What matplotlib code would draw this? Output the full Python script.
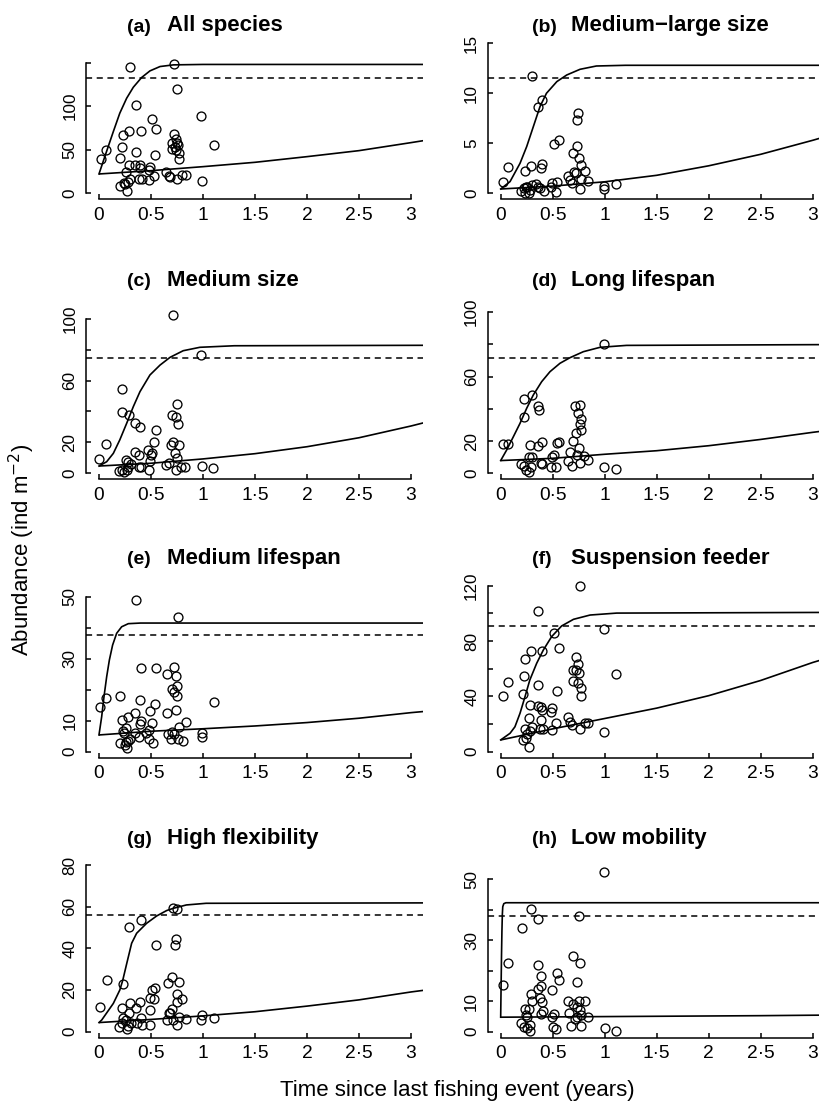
import matplotlib
matplotlib.use("Agg")
import matplotlib.pyplot as plt

plt.rcParams['font.family'] = ['Liberation Sans', 'DejaVu Sans']
plt.rcParams['mathtext.fontset'] = 'custom'
plt.rcParams['mathtext.rm'] = 'Liberation Sans'
plt.rcParams['mathtext.it'] = 'Liberation Sans:italic'
plt.rcParams['mathtext.bf'] = 'Liberation Sans:bold'

# ---------------------------------------------------------------- data
panel_tags = ['(a)', '(b)', '(c)', '(d)', '(e)', '(f)', '(g)', '(h)']
panel_names = ['All species', 'Medium\u2212large size', 'Medium size', 'Long lifespan',
               'Medium lifespan', 'Suspension feeder', 'High flexibility', 'Low mobility']

# observed abundance per site: (years since fishing, ind m^-2)
a_time = [0.016, 0.07, 0.30, 0.72, 0.75, 0.36, 0.51, 0.55, 0.98, 0.29, 0.40, 0.23, 0.225, 0.36,
          0.20, 0.535, 1.11, 0.285, 0.35, 0.39, 0.39, 0.49, 0.485, 0.26, 0.53, 0.41, 0.38, 0.48,
          0.295, 0.275, 0.245, 0.205, 0.25, 0.27, 0.64, 0.67, 0.68, 0.75, 0.80, 0.84, 0.99, 0.72,
          0.74, 0.70, 0.75, 0.73, 0.76, 0.70, 0.74, 0.77, 0.77]
a_abund = [39.8, 49.8, 145, 149, 119.5, 101, 85, 74, 88.5, 71.6, 71.6, 66.7, 53.6, 47,
           41, 43.7, 55, 33, 32, 32, 29, 30.6, 27, 24.5, 20, 16.5, 16.5, 15,
           16.5, 13.4, 12.3, 8.8, 10.3, 3, 24, 20, 19, 16, 20.7, 20.7, 13.8, 68,
           62.5, 58, 58, 53.6, 55, 51, 50, 46, 39]

b_time = [0.02, 0.074, 0.30, 0.36, 0.40, 0.51, 0.56, 0.23, 0.29, 0.40, 0.39, 0.74, 0.73, 0.73,
          0.70, 0.75, 0.77, 0.81, 0.705, 0.72, 0.65, 0.67, 0.69, 0.77, 0.84, 0.76, 0.54, 0.49,
          0.48, 0.53, 0.99, 0.99, 1.11, 0.20, 0.22, 0.25, 0.27, 0.28, 0.30, 0.34, 0.36, 0.38,
          0.42, 0.23, 0.24]
b_abund = [1.17, 2.67, 11.73, 8.6, 9.33, 4.93, 5.33, 2.27, 2.77, 2.9, 2.5, 8.07, 7.33, 4.77,
           4.07, 3.5, 2.87, 2.2, 2.17, 2.0, 1.77, 1.33, 1.07, 1.43, 1.23, 0.4, 1.17, 1.07,
           0.6, 0.17, 0.73, 0.4, 0.93, 0.27, 0.5, 0.67, 0.07, 0.33, 0.8, 0.9, 0.67, 0.5,
           0.27, 0.07, 0.67]

c_time = [0.003, 0.067, 0.224, 0.22, 0.29, 0.35, 0.39, 0.715, 0.98, 0.75, 0.70, 0.74, 0.76,
          0.55, 0.53, 0.715, 0.69, 0.77, 0.73, 0.75, 0.47, 0.51, 0.50, 0.49, 0.35, 0.38, 0.26,
          0.28, 0.38, 0.40, 0.48, 0.19, 0.22, 0.24, 0.27, 0.28, 0.31, 0.64, 0.67, 0.74, 0.79,
          0.83, 0.99, 1.10]
c_abund = [9.5, 19, 54.3, 39.4, 37.7, 32.8, 29.7, 102.4, 76.7, 45, 37.7, 36.6, 31.7,
           28.2, 20, 20.3, 18.5, 18.5, 12.9, 9.7, 15.1, 13.1, 11.6, 8, 14, 11.6, 8.6,
           7.1, 4.3, 4.3, 1.9, 1.5, 2.2, 1.1, 2.2, 4.3, 5.8, 5.2, 6.9, 2.2, 4.1,
           4.3, 5, 3.4]

d_time = [0.02, 0.07, 0.22, 0.30, 0.22, 0.36, 0.37, 0.99, 0.71, 0.76, 0.74, 0.77, 0.76, 0.77,
          0.72, 0.70, 0.75, 0.67, 0.73, 0.80, 0.84, 0.65, 0.76, 0.69, 0.99, 1.11, 0.28, 0.36,
          0.40, 0.54, 0.56, 0.27, 0.30, 0.51, 0.49, 0.20, 0.22, 0.24, 0.27, 0.29, 0.39, 0.40,
          0.48, 0.53]
d_abund = [18, 18, 45.9, 48.3, 35.1, 41.7, 39.3, 80.2, 41.9, 42.1, 37.2, 33.9, 30.4, 26.9,
           25.2, 19.8, 15.7, 13.4, 11.4, 11, 8.3, 7.9, 6.2, 4.5, 3.7, 2.5, 17.6, 17.1,
           19.4, 18.6, 19.6, 10.3, 9.9, 11.2, 10.3, 5.8, 4.3, 2.1, 0.8, 4.1, 6.2, 5.8,
           3.7, 3.7]

e_time = [0.013, 0.07, 0.36, 0.76, 0.40, 0.55, 0.65, 0.72, 0.74, 0.75, 0.70, 0.72, 0.75, 0.20,
          0.39, 0.54, 1.11, 0.49, 0.65, 0.74, 0.35, 0.28, 0.22, 0.40, 0.39, 0.51, 0.26, 0.84,
          0.77, 0.48, 0.23, 0.24, 0.35, 0.38, 0.45, 0.66, 0.70, 0.72, 0.99, 0.99, 0.69, 0.76,
          0.81, 0.48, 0.52, 0.30, 0.28, 0.26, 0.20, 0.27, 0.25]
e_abund = [14.5, 17.4, 49, 43.4, 26.9, 26.9, 25.1, 27.3, 24.4, 21.2, 20.3, 19.4, 18.1, 18.1,
           16.6, 15.4, 15.9, 13.1, 12.6, 13.3, 12.4, 11.3, 10.2, 10, 8.8, 9.1, 7.8, 9.5,
           8.1, 6.9, 6.6, 5.9, 6, 4.8, 5.9, 5.7, 6.5, 5.7, 5.9, 4.6, 4, 4,
           3.5, 4, 2.7, 4, 3.3, 3, 2.7, 1.1, 2.2]

f_time = [0.02, 0.074, 0.36, 0.76, 0.99, 0.51, 0.56, 0.29, 0.40, 0.23, 0.22, 0.36, 0.21, 0.54,
          1.11, 0.72, 0.74, 0.70, 0.72, 0.75, 0.70, 0.74, 0.77, 0.77, 0.28, 0.36, 0.39, 0.40,
          0.49, 0.48, 0.27, 0.39, 0.65, 0.67, 0.69, 0.81, 0.84, 0.53, 0.30, 0.38, 0.41, 0.49,
          0.23, 0.76, 0.99, 0.28, 0.25, 0.24, 0.21, 0.27]
f_abund = [40.5, 50.6, 101.7, 120, 88.9, 85.5, 74.9, 72.5, 72.5, 67.2, 54.7, 48, 41.7, 44.1,
           56.1, 68.4, 63.1, 59, 59, 56.9, 51.1, 49.6, 46.3, 40, 34, 33.3, 32.3, 30.1,
           31.3, 28.9, 24.6, 22.9, 24.8, 21.7, 19.3, 21, 21, 20.5, 17.6, 16.6, 16.6, 15.7,
           16.1, 16.6, 14.2, 14.7, 12.8, 9.9, 8.4, 3.1]

g_time = [0.013, 0.074, 0.23, 0.29, 0.40, 0.715, 0.75, 0.55, 0.74, 0.73, 0.70, 0.66, 0.77, 0.535,
          0.51, 0.75, 0.49, 0.53, 0.80, 0.75, 0.30, 0.39, 0.22, 0.36, 0.285, 0.49, 0.70, 0.67,
          0.99, 0.23, 0.26, 0.22, 0.19, 0.27, 0.28, 0.31, 0.37, 0.40, 0.41, 0.49, 0.65, 0.68,
          0.71, 0.75, 0.77, 0.84, 0.98, 1.11]
g_abund = [11.9, 24.7, 22.8, 50.2, 53.8, 59.5, 58.9, 41.7, 44.3, 41.4, 26.3, 23.1, 23.8, 21,
           19.9, 17.8, 15.9, 15.4, 15.4, 14, 13.5, 14, 11.4, 11.1, 9, 10.3, 10.6, 9,
           7.9, 6.4, 5.5, 3.9, 2.2, 1.4, 2.7, 4.3, 4.2, 6.4, 3.2, 3.2, 5.5, 8.7,
           5.5, 3.2, 7.1, 5.9, 5.5, 6.4]

h_time = [0.02, 0.074, 0.295, 0.36, 0.205, 0.99, 0.75, 0.70, 0.76, 0.36, 0.39, 0.54, 0.56, 0.73,
          0.39, 0.355, 0.49, 0.29, 0.30, 0.40, 0.38, 0.65, 0.70, 0.75, 0.81, 0.73, 0.23, 0.27,
          0.41, 0.39, 0.51, 0.49, 0.50, 0.53, 0.24, 0.25, 0.20, 0.22, 0.25, 0.28, 0.28, 0.66,
          0.68, 0.71, 0.73, 0.76, 0.77, 0.77, 0.84, 1.00, 1.11]
h_abund = [15.4, 22.6, 40.4, 36.9, 34.1, 52.3, 38, 24.9, 22.4, 21.8, 18.1, 19.1, 16.9, 16.4,
           14.8, 13.8, 13.5, 12.4, 10, 9.7, 11, 10, 9.1, 9.9, 10, 8.2, 7.5, 7.5,
           6.7, 5.8, 5.8, 4.9, 1.6, 0.8, 5.3, 4.7, 2.7, 1.6, 1.1, 0.3, 2, 6.2,
           1.8, 4.2, 4.7, 6.9, 5.3, 1.9, 4.9, 1.1, 0.1]

# reference (unfished) abundance, dashed line
reference_level = [133, 11.57, 74.8, 71.7, 37.5, 90.8, 55.9, 38.1]

# fitted recovery curve (upper) read at the listed times
a_fit_t = [0, 0.067, 0.138, 0.20, 0.266, 0.33, 0.41, 0.49, 0.587, 0.715, 1.0, 3.2]
a_fit = [22.2, 46, 70.9, 92, 109.2, 121.8, 133, 140.6, 145.6, 147.5, 148, 148]
b_fit_t = [0, 0.09, 0.186, 0.25, 0.314, 0.378, 0.44, 0.54, 0.635, 0.763, 0.92, 1.2, 3.2]
b_fit = [0.43, 1.17, 3.0, 4.67, 6.67, 8.67, 10.0, 11.17, 11.83, 12.4, 12.73, 12.8, 12.8]
c_fit_t = [0, 0.074, 0.138, 0.2, 0.266, 0.33, 0.394, 0.49, 0.587, 0.683, 0.81, 0.97, 1.3, 3.2]
c_fit = [4.7, 7.5, 12.9, 21.6, 32.3, 43.1, 52.8, 63.6, 70, 75, 79.3, 81.5, 82.5, 82.8]
d_fit_t = [0, 0.058, 0.122, 0.186, 0.25, 0.314, 0.394, 0.474, 0.57, 0.667, 0.795, 0.955, 1.21, 3.2]
d_fit = [7.9, 14.5, 22.7, 31, 40.3, 48.6, 56.8, 63, 68.2, 71.7, 75.4, 78.1, 79.3, 79.8]
e_fit_t = [0, 0.026, 0.048, 0.074, 0.1, 0.131, 0.17, 0.218, 0.282, 0.4, 3.2]
e_fit = [5.4, 11.3, 17.7, 24.2, 29.6, 34.4, 38.2, 40.3, 41.3, 41.5, 41.5]
f_fit_t = [0, 0.09, 0.137, 0.186, 0.234, 0.28, 0.346, 0.41, 0.49, 0.586, 0.70, 0.86, 1.115, 3.2]
f_fit = [8.5, 13.3, 18, 27.8, 39.8, 51.8, 63.9, 73.5, 83.2, 90.9, 95.7, 98.8, 100.2, 100.7]
g_fit_t = [0, 0.026, 0.138, 0.2, 0.228, 0.266, 0.314, 0.362, 0.458, 0.554, 0.65, 0.715, 0.84, 1.03, 3.2]
g_fit = [4.3, 5.5, 13.5, 19.9, 24.5, 32.5, 42.4, 47.2, 52, 55.5, 58.1, 59.2, 60.8, 61.6, 61.8]
h_fit_t = [0, 0.004, 0.008, 0.012, 0.016, 0.02, 0.03, 0.05, 3.2]
h_fit = [4.7, 15, 25, 33, 38.5, 41, 42, 42.3, 42.3]

# lower (null) trend read at common times
trend_t = [0, 0.5, 1, 1.5, 2, 2.5, 3, 3.2]
a_trend = [22.2, 26, 30.6, 35.6, 42.1, 49, 58.2, 62]
b_trend = [0.43, 0.72, 1.15, 1.8, 2.75, 3.9, 5.3, 5.9]
c_trend = [4.7, 6.5, 9.3, 12.7, 17.2, 23, 30.6, 34]
d_trend = [7.9, 9.3, 11.8, 14, 17.1, 21, 25.4, 27]
e_trend = [5.4, 6.6, 7.4, 8.3, 9.4, 10.8, 12.6, 13.2]
f_trend = [8.5, 16.5, 24, 31.5, 40.5, 51.5, 64.5, 69]
g_trend = [4.3, 5.8, 7.5, 9.5, 12.2, 15.2, 19, 20.3]
h_trend = [4.7, 4.8, 4.9, 5.0, 5.1, 5.2, 5.35, 5.4]

# y-axis ticks and which of them carry a label
y_ticks = [[0, 50, 100, 150], [0, 5, 10, 15], [0, 20, 40, 60, 80, 100], [0, 20, 40, 60, 80, 100],
           [0, 10, 20, 30, 40, 50], [0, 20, 40, 60, 80, 100, 120], [0, 20, 40, 60, 80],
           [0, 10, 20, 30, 40, 50]]
y_labelled = [[0, 50, 100], [0, 5, 10, 15], [0, 20, 60, 100], [0, 20, 60, 100],
              [0, 10, 30, 50], [0, 40, 80, 120], [0, 20, 40, 60, 80], [0, 10, 30, 50]]

x_ticks = [0, 0.5, 1, 1.5, 2, 2.5, 3]
x_ticklabels = ['0', '0\u00b75', '1', '1\u00b75', '2', '2\u00b75', '3']

obs_time = [a_time, b_time, c_time, d_time, e_time, f_time, g_time, h_time]
obs_abund = [a_abund, b_abund, c_abund, d_abund, e_abund, f_abund, g_abund, h_abund]
fit_t = [a_fit_t, b_fit_t, c_fit_t, d_fit_t, e_fit_t, f_fit_t, g_fit_t, h_fit_t]
fit_v = [a_fit, b_fit, c_fit, d_fit, e_fit, f_fit, g_fit, h_fit]
trend_v = [a_trend, b_trend, c_trend, d_trend, e_trend, f_trend, g_trend, h_trend]

# ---------------------------------------------------------------- layout (pixels)
W, H = 820, 1101
fig = plt.figure(figsize=(W / 100, H / 100), dpi=100)

col_left = [86.5, 488.2]          # left edge of plotting region
region_w = 337.0                  # spans x = -0.12 .. 3.12
region_h = 175.0
zero_px = [193.3, 473.3, 751.7, 1031.5]   # height of y = 0 in each row
gap_px = 6.0                      # x-axis line sits slightly below y = 0
top_tick_px = [62.7, 43.3, 318.7, 312.0, 596.7, 585.7, 865.0, 879.3]
tag_x = [127.0, 531.7]
name_x = [166.7, 571.0]
title_base = [31.5, 286.0, 564.3, 844.0]

for i in range(8):
    row, col = divmod(i, 2)
    top_tick = y_ticks[i][-1]
    ppu = (zero_px[row] - top_tick_px[i]) / top_tick
    axis_px = zero_px[row] + gap_px
    lo = -gap_px / ppu
    hi = lo + region_h / ppu

    ax = fig.add_axes([col_left[col] / W, 1 - axis_px / H, region_w / W, region_h / H])
    ax.set_xlim(-0.12, 3.12)
    ax.set_ylim(lo, hi)
    ax.patch.set_visible(False)

    ax.axhline(reference_level[i], color='black', lw=1.1, ls=(0, (4.0, 3.0)))
    ax.plot(trend_t, trend_v[i], color='black', lw=1.2, solid_capstyle='butt')
    ax.plot(fit_t[i], fit_v[i], color='black', lw=1.2, solid_joinstyle='round')
    ax.plot(obs_time[i], obs_abund[i], 'o', mfc='none', mec='black', ms=6.4, mew=0.95,
            clip_on=False)

    for side in ('top', 'right'):
        ax.spines[side].set_visible(False)
    ax.spines['left'].set_bounds(0, top_tick)
    ax.spines['bottom'].set_bounds(0, 3)
    for side in ('left', 'bottom'):
        ax.spines[side].set_linewidth(1.1)

    ax.set_xticks(x_ticks, x_ticklabels)
    ylabels = [str(t) if t in y_labelled[i] else '' for t in y_ticks[i]]
    ax.set_yticks(y_ticks[i], ylabels, rotation=90, va='center')
    ax.tick_params(direction='in', length=3.3, width=1.1, colors='black')
    ax.tick_params(axis='x', pad=5.5, labelsize=13.8)
    ax.tick_params(axis='y', pad=6.5, labelsize=12.3)

    base = 1 - title_base[row] / H
    fig.text(tag_x[col] / W, base, panel_tags[i], fontsize=14, fontweight='bold',
             ha='left', va='baseline')
    fig.text(name_x[col] / W, base, panel_names[i], fontsize=16, fontweight='bold',
             ha='left', va='baseline')

fig.text(22 / W, 1 - 550 / H, 'Abundance (ind m$^{\\mathsf{-2}}$)', rotation=90,
         fontsize=16, ha='center', va='center')
fig.text(457 / W, 1 - 1096 / H, 'Time since last fishing event (years)', fontsize=16,
         ha='center', va='baseline')

fig.savefig('out.png', dpi=100)
